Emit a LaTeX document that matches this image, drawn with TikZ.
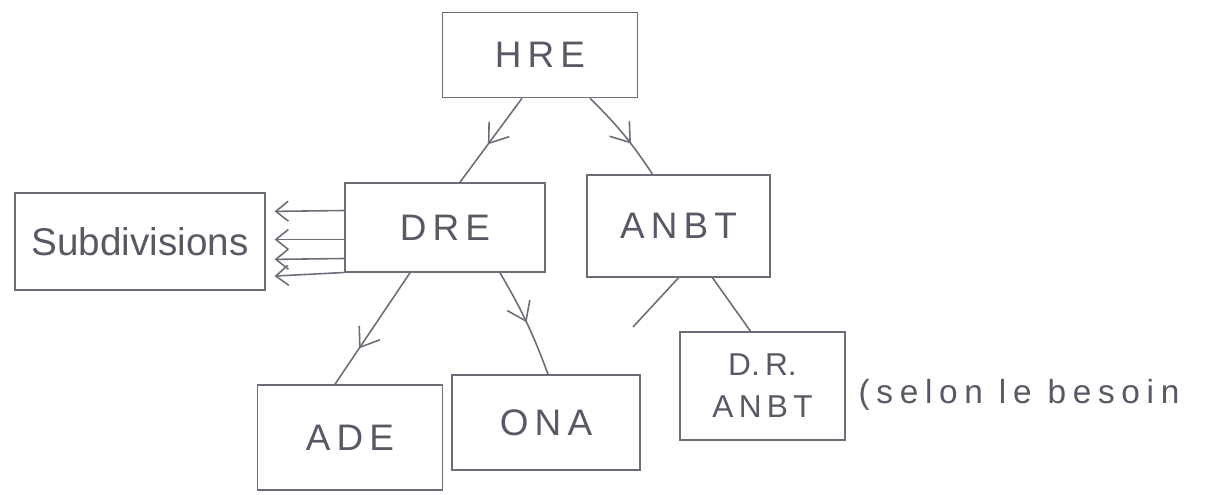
\documentclass[tikz,border=0pt]{standalone}
\usepackage{fontspec}
\setmainfont{Liberation Sans}
\usepackage{tikz}
\usetikzlibrary{arrows.meta,positioning,calc,decorations.markings}
\usepackage{xcolor}
\definecolor{Pencil}{HTML}{6E6C78}
\definecolor{Lead}{HTML}{5A5866}

\begin{document}
\begin{tikzpicture}[
  box/.style={draw=Pencil,line width=.9pt,inner sep=0pt,text=Lead,font=\fontsize{21}{25}\selectfont},
  link/.style={draw=Pencil,line width=.9pt},
  midtip/.style={postaction={decorate},decoration={markings,
    mark=at position #1 with {\arrow[Pencil,line width=.9pt]{Straight Barb[length=3.5mm,width=5mm]}}}},
  back/.style={link,-{Straight Barb[length=2.5mm,width=4mm]},shorten >=5pt}]
\useasboundingbox (0,0) rectangle (24.5,-9.9);

% Niveau haut
\node[box,minimum width=3.9cm,minimum height=1.7cm] (hre) at (10.8,-1.1) {H\,R\,E};

% Niveau intermediaire
\node[box,minimum width=4.0cm,minimum height=1.78cm] (dre) at (8.9,-4.55) {D\,R\,E};
\node[box,minimum width=3.66cm,minimum height=2.04cm] (anbt) at (13.57,-4.52) {A\,N\,B\,T};
\node[box,minimum width=5.0cm,minimum height=1.94cm,font=\fontsize{22}{26}\selectfont] (subdiv) at (2.8,-4.83) {Subdivisions};

% Niveau bas
\node[box,minimum width=3.7cm,minimum height=2.1cm] (ade) at (7.0,-8.75) {A\,D\,E};
\node[box,minimum width=3.76cm,minimum height=1.9cm] (ona) at (10.92,-8.45) {O\,N\,A};
\node[box,minimum width=3.3cm,minimum height=2.16cm,align=center,
  font=\fontsize{18}{24}\selectfont] (dranbt) at (15.25,-7.72) {D.\,R.\\A\,N\,B\,T};
\node[anchor=west,text=Lead,font=\fontsize{19}{22}\selectfont\addfontfeature{LetterSpace=20}] (besoin) at (17.05,-7.9) {(selon le besoin};
\coordinate (libre) at (12.66,-6.54);

% Liens
\draw[link,midtip=.55] ([xshift=-.36cm]hre.south) -- ([xshift=.3cm]dre.north);
\draw[link,midtip=.62] ([xshift=1.0cm]hre.south) to[bend left=6] ([xshift=-.52cm]anbt.north);
\draw[link,midtip=.68] ([xshift=-.7cm]dre.south) -- ([xshift=-.3cm]ade.north);
\draw[link,midtip=.5] ([xshift=1.1cm]dre.south) to[bend left=5] ([xshift=.04cm]ona.north);
\draw[link] (anbt.south) -- (libre);
\draw[link] ([xshift=.68cm]anbt.south) -- ([xshift=-.24cm]dranbt.north);

% Retour vers les subdivisions
\foreach \a/\b in {.34/.6,-.24/.04,-.62/-.36,-.9/-.7}
  \draw[back] ([yshift=\a cm]dre.west) -- ([yshift=\b cm]subdiv.east);
\end{tikzpicture}
\end{document}
